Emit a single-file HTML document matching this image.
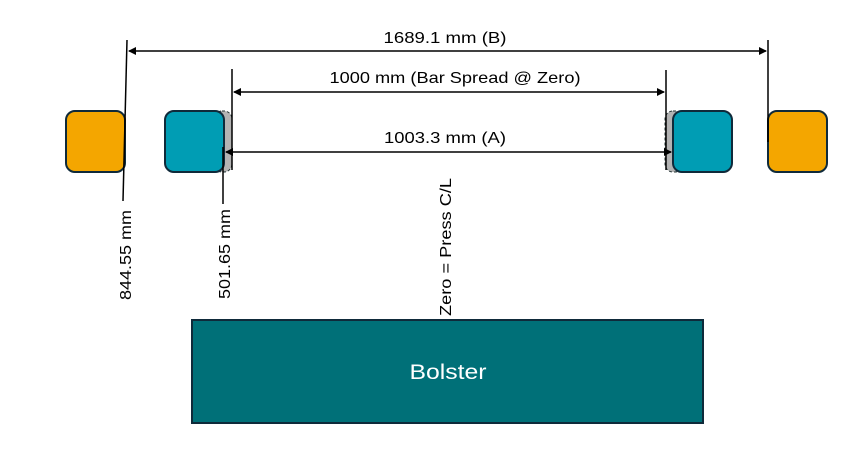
<!DOCTYPE html>
<html><head><meta charset="utf-8"><style>html,body{margin:0;padding:0;background:#fff}svg{display:block}</style></head>
<body>
<svg width="857" height="467" viewBox="0 0 857 467" xmlns="http://www.w3.org/2000/svg" font-family="'Liberation Sans', sans-serif">
<defs>
<marker id="ar" markerWidth="8" markerHeight="8" refX="7" refY="4" orient="auto-start-reverse" markerUnits="userSpaceOnUse"><path d="M0,0 L8,4 L0,8 z" fill="#000"/></marker>
</defs>
<rect x="214" y="111" width="18" height="61" rx="8" fill="#b3b3b3" stroke="#233" stroke-width="1" stroke-dasharray="3,2"/>
<rect x="665" y="111" width="18" height="61" rx="8" fill="#b3b3b3" stroke="#233" stroke-width="1" stroke-dasharray="3,2"/>
<rect x="66" y="111" width="59" height="61" rx="9" fill="#f4a600" stroke="#0f2a3a" stroke-width="2"/>
<rect x="165" y="111" width="59" height="61" rx="9" fill="#009db4" stroke="#0f2a3a" stroke-width="2"/>
<rect x="673" y="111" width="59" height="61" rx="9" fill="#009db4" stroke="#0f2a3a" stroke-width="2"/>
<rect x="768" y="111" width="59" height="61" rx="9" fill="#f4a600" stroke="#0f2a3a" stroke-width="2"/>
<g stroke="#000" stroke-width="1.5">
<line x1="127" y1="40" x2="123" y2="201"/>
<line x1="768" y1="40" x2="768" y2="142"/>
<line x1="232" y1="69" x2="232" y2="170"/>
<line x1="666" y1="70" x2="666" y2="170"/>
<line x1="223" y1="147" x2="223" y2="204"/>
</g>
<g stroke="#000" stroke-width="1.5">
<line x1="129" y1="51" x2="766" y2="51" marker-start="url(#ar)" marker-end="url(#ar)"/>
<line x1="234" y1="92" x2="664" y2="92" marker-start="url(#ar)" marker-end="url(#ar)"/>
<line x1="226" y1="152" x2="671" y2="152" marker-start="url(#ar)" marker-end="url(#ar)"/>
</g>
<g font-size="16" fill="#000" text-anchor="middle">
<text x="445" y="43" textLength="123" lengthAdjust="spacingAndGlyphs">1689.1 mm (B)</text>
<text x="455" y="83" textLength="251" lengthAdjust="spacingAndGlyphs">1000 mm (Bar Spread @ Zero)</text>
<text x="445" y="143" textLength="122" lengthAdjust="spacingAndGlyphs">1003.3 mm (A)</text>
<text transform="translate(131,255) rotate(-90)" textLength="90" lengthAdjust="spacingAndGlyphs">844.55 mm</text>
<text transform="translate(230,254) rotate(-90)" textLength="90" lengthAdjust="spacingAndGlyphs">501.65 mm</text>
<text transform="translate(451,247) rotate(-90)" textLength="138" lengthAdjust="spacingAndGlyphs">Zero = Press C/L</text>
</g>
<rect x="192" y="320" width="511" height="103" fill="#007078" stroke="#0f2a3a" stroke-width="2"/>
<text x="448" y="379" font-size="21" fill="#fff" text-anchor="middle" textLength="77" lengthAdjust="spacingAndGlyphs">Bolster</text>
</svg>
</body></html>
